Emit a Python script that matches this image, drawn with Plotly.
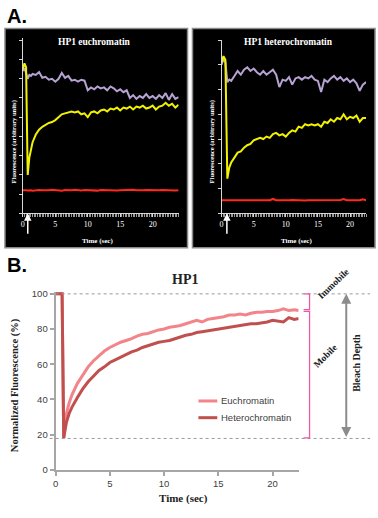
import plotly.graph_objects as go

# ---------------- DATA ----------------
# Panel A (left): HP1 euchromatin, arbitrary units
t_eu_raw = [0, 0.25, 0.5, 0.75, 1, 1.25, 1.5, 2, 2.5, 3, 3.5, 4, 4.5, 5, 5.5, 6, 6.5, 7, 7.5, 8, 8.5,
            9, 9.5, 10, 10.5, 11, 11.5, 12, 12.5, 13, 13.5, 14, 14.5, 15, 15.5, 16, 16.5, 17, 17.5,
            18, 18.5, 19, 19.5, 20, 20.5, 21, 21.5, 22, 22.5, 23, 23.5, 24]
eu_bleached = [7.5, 7.8, 7.6, 2.0, 2.9, 3.3, 3.7, 4.1, 4.35, 4.5, 4.6, 4.7, 4.75, 4.85, 5.0, 5.15, 5.2,
               5.25, 5.3, 5.25, 5.3, 5.15, 5.2, 5.0, 5.25, 5.3, 5.2, 5.35, 5.4, 5.3, 5.45, 5.4, 5.5,
               5.35, 5.5, 5.45, 5.55, 5.4, 5.55, 5.5, 5.6, 5.45, 5.5, 5.6, 5.4, 5.55, 5.6, 5.75, 5.6,
               5.7, 5.5, 5.65]
eu_whole = [7.4, 7.55, 7.3, 7.0, 7.2, 7.15, 7.25, 7.2, 7.35, 7.05, 7.1, 6.95, 7.0, 6.85, 7.0, 7.3, 7.05,
            7.15, 6.9, 6.95, 6.85, 6.95, 6.9, 6.4, 6.55, 6.45, 6.6, 6.5, 6.55, 6.4, 6.6, 6.5, 6.35,
            6.45, 6.3, 6.4, 6.0, 6.15, 5.95, 6.1, 6.0, 6.2, 6.0, 6.1, 5.95, 6.15, 6.0, 6.25, 5.9,
            6.2, 5.95, 6.05]
eu_background = [1.2, 1.22, 1.2, 1.19, 1.21, 1.2, 1.18, 1.2, 1.21, 1.2, 1.19, 1.2, 1.22, 1.2, 1.2, 1.18,
                 1.21, 1.2, 1.2, 1.22, 1.2, 1.19, 1.21, 1.2, 1.2, 1.2, 1.18, 1.21, 1.2, 1.22, 1.2, 1.2,
                 1.19, 1.2, 1.21, 1.2, 1.2, 1.22, 1.2, 1.19, 1.2, 1.21, 1.2, 1.2, 1.18, 1.2, 1.21, 1.2,
                 1.22, 1.2, 1.19, 1.2]

# Panel A (right): HP1 heterochromatin, arbitrary units
t_het_raw = [0, 0.3, 0.6, 0.9, 1.2, 1.5, 2, 2.5, 3, 3.5, 4, 4.5, 5, 5.5, 6, 6.5, 7, 7.5, 8, 8.5, 9,
             9.5, 10, 10.5, 11, 11.5, 12, 12.5, 13, 13.5, 14, 14.5, 15, 15.5, 16, 16.5, 17, 17.5, 18,
             18.5, 19, 19.5, 20, 20.5, 21, 21.5, 22, 22.5]
het_bleached = [6.1, 6.35, 6.2, 1.4, 1.85, 2.05, 2.25, 2.45, 2.5, 2.65, 2.75, 2.8, 2.95, 3.0, 3.05, 3.0,
                3.1, 3.05, 3.2, 3.25, 3.15, 3.2, 3.1, 3.25, 3.35, 3.3, 3.5, 3.45, 3.6, 3.55, 3.6, 3.55,
                3.6, 3.5, 3.7, 3.65, 3.8, 3.7, 3.85, 3.8, 4.0, 3.8, 3.9, 3.85, 3.95, 3.7, 3.85, 3.85]
het_whole = [6.0, 6.25, 6.1, 5.3, 5.4, 5.35, 5.55, 5.75, 5.6, 5.8, 5.9, 5.75, 5.85, 5.7, 5.6, 5.75, 5.6,
             5.7, 5.8, 5.6, 5.1, 5.4, 5.35, 5.5, 5.2, 5.45, 5.5, 5.4, 5.5, 5.45, 5.55, 5.4, 5.35, 4.9,
             5.4, 5.3, 5.45, 5.55, 5.4, 5.5, 5.35, 5.45, 5.3, 5.4, 5.25, 4.95, 5.2, 5.3]
het_background = [0.53, 0.53, 0.54, 0.53, 0.52, 0.53, 0.53, 0.54, 0.53, 0.53, 0.52, 0.53, 0.53, 0.53,
                  0.54, 0.53, 0.53, 0.53, 0.58, 0.53, 0.53, 0.52, 0.53, 0.53, 0.54, 0.53, 0.53, 0.53,
                  0.52, 0.53, 0.53, 0.54, 0.53, 0.53, 0.53, 0.52, 0.53, 0.53, 0.53, 0.54, 0.58, 0.53,
                  0.53, 0.52, 0.53, 0.53, 0.57, 0.53]

bleach_time_eu = 0.76
bleach_time_het = 0.83

# Panel B: normalized fluorescence (%)
t_norm = [0, 0.25, 0.5, 0.6, 0.75, 1.0, 1.25, 1.5, 2, 2.5, 3, 3.5, 4, 4.5, 5, 5.5, 6, 6.5, 7, 7.5, 8,
          8.5, 9, 9.5, 10, 10.5, 11, 11.5, 12, 12.5, 13, 13.5, 14, 14.5, 15, 15.5, 16, 16.5, 17, 17.5,
          18, 18.5, 19, 19.5, 20, 20.5, 21, 21.5, 22, 22.4]
euchromatin = [100, 100, 100, 100, 18, 32, 38, 42.5, 49, 54, 58.5, 62, 65, 67.5, 69.5, 71, 72.5, 73.5,
               74.5, 76, 77, 77.5, 78.5, 79.5, 80, 81, 81.5, 82, 83, 84, 85, 84, 85.5, 86, 86.5, 87,
               88, 88, 88.5, 88, 89, 89.5, 89.5, 90, 90, 90.5, 91.5, 90.5, 91, 90.5]
heterochromatin = [100, 100, 100, 100, 18, 27, 32, 35.5, 41, 46, 50, 53.5, 56.5, 58.5, 61, 62.5, 64,
                   65.5, 67, 68, 69.5, 70.5, 71.5, 72.5, 73, 73.5, 74.5, 75.5, 76.5, 77, 78, 78.5, 79,
                   79.5, 80, 80.5, 81, 81.5, 82, 82.5, 83, 83, 83.5, 84, 85, 84.5, 84, 86.5, 85.5, 86]
series_names = ["Euchromatin", "Heterochromatin"]
prebleach_level = 100
bleach_depth = 17.8
plateau_level = 91

# ---------------- STYLE ----------------
W, H = 378, 518
def px_x(p): return p / W
def px_y(p): return 1 - p / H

YELLOW = "#f2f200"
LAVENDER = "#b7a3d3"
RED = "#ff2a1a"
EU_COL = "#f2848a"
HET_COL = "#c0504d"
PINK = "#ee5aa0"
SERIF = "Liberation Serif"
SANS = "Liberation Sans"

fig = go.Figure()

# Panel A left
for y, c in [(eu_whole, LAVENDER), (eu_bleached, YELLOW), (eu_background, RED)]:
    fig.add_trace(go.Scatter(x=t_eu_raw, y=y, mode="lines", line=dict(color=c, width=2),
                             xaxis="x", yaxis="y", showlegend=False, hoverinfo="skip"))
# Panel A right
for y, c in [(het_whole, LAVENDER), (het_bleached, YELLOW), (het_background, RED)]:
    fig.add_trace(go.Scatter(x=t_het_raw, y=y, mode="lines", line=dict(color=c, width=2),
                             xaxis="x2", yaxis="y2", showlegend=False, hoverinfo="skip"))
# Panel B
for y, c, n in [(euchromatin, EU_COL, series_names[0]), (heterochromatin, HET_COL, series_names[1])]:
    fig.add_trace(go.Scatter(x=t_norm, y=y, mode="lines", line=dict(color=c, width=3),
                             name=n, xaxis="x3", yaxis="y3", showlegend=False))

dark_x = dict(showgrid=False, zeroline=False, showline=True, linecolor="#d8d8d8", linewidth=1,
              ticks="outside", ticklen=3, tickcolor="#d8d8d8", dtick=5,
              tickfont=dict(family=SERIF, size=8, color="white"),
              minor=dict(dtick=0.25, ticks="outside", ticklen=3, tickcolor="#9a9a9a"))
dark_y = dict(showgrid=False, zeroline=False, showline=True, linecolor="#d8d8d8", linewidth=1,
              ticks="outside", ticklen=3, tickcolor="#d8d8d8", dtick=1, showticklabels=False)

fig.update_layout(
    width=W, height=H, margin=dict(l=0, r=0, t=0, b=0),
    paper_bgcolor="white", plot_bgcolor="rgba(0,0,0,0)",
    xaxis=dict(dark_x, domain=[px_x(20), px_x(177)], range=[0, 24], anchor="y"),
    yaxis=dict(dark_y, domain=[px_y(213), px_y(35)], range=[0, 9.1], anchor="x"),
    xaxis2=dict(dark_x, domain=[px_x(220.3), px_x(366)], range=[0, 22.5], anchor="y2"),
    yaxis2=dict(dark_y, domain=[px_y(213), px_y(36.7)], range=[0, 7], anchor="x2"),
    xaxis3=dict(domain=[px_x(53), px_x(298)], range=[0, 22.4], anchor="y3", showgrid=False,
                zeroline=False, showline=True, linecolor="#a6a6a6", linewidth=2, ticks="outside",
                ticklen=4, tickcolor="#a6a6a6", tickwidth=1.5, dtick=5,
                tickfont=dict(family=SANS, size=9.5, color="#404040")),
    yaxis3=dict(domain=[px_y(474), px_y(293.2)], range=[0, 101], anchor="x3", showgrid=False,
                zeroline=False, showline=True, linecolor="#a6a6a6", linewidth=2, ticks="outside",
                ticklen=4, tickcolor="#a6a6a6", tickwidth=1.5, tickvals=[0, 20, 40, 60, 80, 100],
                tickfont=dict(family=SANS, size=9.5, color="#404040")),
)

shapes = []
# black panel boxes
for x0, x1 in [(2, 186), (191, 375)]:
    shapes.append(dict(type="rect", xref="paper", yref="paper", x0=px_x(x0), x1=px_x(x1),
                       y0=px_y(248), y1=px_y(25), fillcolor="black",
                       line=dict(color="#8a8a8a", width=1.5), layer="below"))
# dotted reference lines
for lvl in [prebleach_level, bleach_depth]:
    shapes.append(dict(type="line", xref="paper", yref="y3", x0=px_x(47), x1=px_x(370),
                       y0=lvl, y1=lvl, line=dict(color="#9a9a9a", width=1, dash="dot")))
# brackets
bx0, bx1 = px_x(303), px_x(309)
for top, bot in [(prebleach_level, plateau_level), (plateau_level - 1, bleach_depth + 0.3)]:
    shapes.append(dict(type="path", xref="paper", yref="y3",
                       path=f"M {bx0},{top} L {bx1},{top} L {bx1},{bot} L {bx0},{bot}",
                       line=dict(color=PINK, width=1.3)))
# legend lines
for ypx, c in [(404, EU_COL), (421, HET_COL)]:
    shapes.append(dict(type="line", xref="paper", yref="paper", x0=px_x(197), x1=px_x(216),
                       y0=px_y(ypx), y1=px_y(ypx), line=dict(color=c, width=3)))
fig.update_layout(shapes=shapes)

ann = []
def txt(text, x, y, size, color="black", family=SERIF, angle=0, xanchor="center", yanchor="middle"):
    ann.append(dict(text=text, x=x, y=y, xref="paper", yref="paper", showarrow=False,
                    font=dict(family=family, size=size, color=color), textangle=angle,
                    xanchor=xanchor, yanchor=yanchor))

txt("<b>A.</b>", px_x(2), px_y(12.5), 20, family=SANS, xanchor="left")
txt("<b>B.</b>", px_x(2), px_y(266), 20, family=SANS, xanchor="left")
txt("<b>HP1 euchromatin</b>", px_x(92), px_y(39), 9.5, "white")
txt("<b>HP1 heterochromatin</b>", px_x(288), px_y(39), 9.5, "white")
txt("<b>Fluorescence (arbitrary units)</b>", px_x(11), px_y(140), 6.5, "white", angle=-90)
txt("<b>Fluorescence (arbitrary units)</b>", px_x(210.5), px_y(140), 6.5, "white", angle=-90)
txt("<b>Time (sec)</b>", px_x(95), px_y(241), 7, "white")
txt("<b>Time (sec)</b>", px_x(296), px_y(241), 7, "white")
txt("<b>HP1</b>", px_x(183), px_y(280), 14, "#222")
txt("<b>Normalized Fluorescence (%)</b>", px_x(12), px_y(388), 10.5, "#222", angle=-90)
txt("<b>Time (sec)</b>", px_x(182), px_y(503), 11, "#222")
txt(series_names[0], px_x(218), px_y(404), 9.5, "#404040", family=SANS, xanchor="left")
txt(series_names[1], px_x(218), px_y(421), 9.5, "#404040", family=SANS, xanchor="left")
txt("<b>Immobile</b>", px_x(333), px_y(285), 9.5, "#222", angle=-44)
txt("<b>Mobile</b>", px_x(325), px_y(358), 9.5, "#222", angle=-45)
txt("<b>Bleach Depth</b>", px_x(356), px_y(365), 10, "#222", angle=-90)

# white bleach arrows in panel A
for xr, t in [("x", bleach_time_eu), ("x2", bleach_time_het)]:
    ann.append(dict(x=t, y=px_y(213), xref=xr, yref="paper", ax=0, ay=22, text="",
                    showarrow=True, arrowhead=2, arrowsize=1, arrowwidth=1.5, arrowcolor="white"))
# bleach depth double arrow
ann.append(dict(x=px_x(346), y=prebleach_level, xref="paper", yref="y3", ax=0, ayref="y3",
                ay=bleach_depth, axref="pixel", text="", showarrow=True, arrowhead=2, arrowsize=1,
                startarrowhead=2, arrowside="end+start", arrowwidth=2, arrowcolor="#8c8c8c"))
fig.update_layout(annotations=ann)

# remove the browser's default 8px body margin so the 378x518 figure fills the window exactly
fig.write_html("out.html", config={"displayModeBar": False},
               post_script="document.body.style.margin='0';document.body.style.padding='0';"
                           "document.body.style.overflow='hidden';")
